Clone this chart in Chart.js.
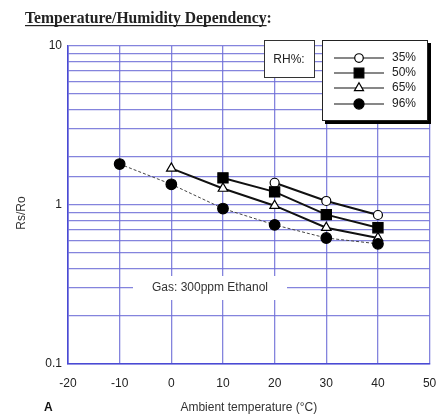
<!DOCTYPE html>
<html>
<head>
<meta charset="utf-8">
<script src="https://cdn.jsdelivr.net/npm/chart.js@4.4.1/dist/chart.umd.min.js"></script>
<style>
html,body{margin:0;padding:0;background:#fff;}
#wrap{position:relative;width:438px;height:419px;}
canvas{display:block;}
</style>
</head>
<body>
<div id="wrap"><canvas id="c" width="438" height="419"></canvas></div>
<script>
// ---- data ----
const chartTitle = 'Temperature/Humidity Dependency:';
const xTitle = 'Ambient temperature (\u00B0C)';
const yTitle = 'Rs/Ro';
const panelLabel = 'A';
const gasNote = 'Gas: 300ppm Ethanol';
const legendHeader = 'RH%:';
const seriesNames = ['35%', '50%', '65%', '96%'];

const xTickValues = [-20, -10, 0, 10, 20, 30, 40, 50];
const yTickValues = [0.1, 1, 10];
const yTickLabels = ['0.1', '1', '10'];

const rh35Temp = [20, 30, 40];
const rh35Val  = [1.38, 1.06, 0.865];
const rh50Temp = [10, 20, 30, 40];
const rh50Val  = [1.48, 1.21, 0.87, 0.72];
const rh65Temp = [0, 10, 20, 30, 40];
const rh65Val  = [1.70, 1.27, 0.99, 0.72, 0.62];
const rh96Temp = [-10, 0, 10, 20, 30, 40];
const rh96Val  = [1.81, 1.35, 0.95, 0.75, 0.62, 0.57];

function pts(t, v) { return t.map((x, i) => ({ x: x, y: v[i] })); }

const GRID = 'rgba(110,110,215,0.85)';
const BORDER = '#4a4ad4';

const styles = [
  { pointStyle: 'circle',   pointRadius: 4.5, bg: '#fff',    lw: 2,   dash: [],     lc: '#111' },
  { pointStyle: 'rect',     pointRadius: 7.2, bg: '#000',    lw: 2,   dash: [],     lc: '#111' },
  { pointStyle: 'triangle', pointRadius: 5.5, bg: '#fff',    lw: 2,   dash: [],     lc: '#111' },
  { pointStyle: 'circle',   pointRadius: 5.3, bg: '#000',    lw: 1,   dash: [3, 2], lc: '#444' }
];
const seriesData = [pts(rh35Temp, rh35Val), pts(rh50Temp, rh50Val), pts(rh65Temp, rh65Val), pts(rh96Temp, rh96Val)];

const datasets = seriesNames.map((n, i) => ({
  label: n,
  data: seriesData[i],
  borderColor: styles[i].lc,
  borderWidth: styles[i].lw,
  borderDash: styles[i].dash,
  pointStyle: styles[i].pointStyle,
  pointRadius: styles[i].pointRadius,
  pointBackgroundColor: styles[i].bg,
  pointBorderColor: '#000',
  pointBorderWidth: 1.2,
  tension: 0,
  fill: false,
  order: 3 - i
}));

const decor = {
  id: 'decor',
  beforeDatasetsDraw(chart) {
    const ctx = chart.ctx;
    ctx.save();
    // gas note box
    ctx.fillStyle = '#fff';
    ctx.fillRect(133, 276, 154, 24);
    ctx.fillStyle = '#333';
    ctx.font = '12px "Liberation Sans", Arial, sans-serif';
    ctx.textAlign = 'center';
    ctx.textBaseline = 'middle';
    ctx.fillText(gasNote, 210, 288);
    ctx.restore();
  },
  afterDraw(chart) {
    const ctx = chart.ctx;
    ctx.save();
    // title
    ctx.fillStyle = '#222';
    ctx.font = 'bold 14px "Liberation Serif", "Times New Roman", serif';
    let w = ctx.measureText(chartTitle).width;
    const size = 14 * 247 / w;
    ctx.font = 'bold ' + size.toFixed(2) + 'px "Liberation Serif", "Times New Roman", serif';
    ctx.textAlign = 'left';
    ctx.textBaseline = 'alphabetic';
    ctx.fillText(chartTitle, 25, 23);
    const uw = ctx.measureText(chartTitle.slice(0, -1)).width;
    ctx.fillRect(25, 25, uw, 1.2);

    // y title
    ctx.font = '12px "Liberation Sans", Arial, sans-serif';
    ctx.fillStyle = '#333';
    ctx.translate(22, 213);
    ctx.rotate(-Math.PI / 2);
    ctx.textAlign = 'center';
    ctx.textBaseline = 'middle';
    ctx.fillText(yTitle, 0, 0);
    ctx.setTransform(1, 0, 0, 1, 0, 0);

    // panel label
    ctx.font = 'bold 12px "Liberation Sans", Arial, sans-serif';
    ctx.fillStyle = '#111';
    ctx.textAlign = 'left';
    ctx.fillText(panelLabel, 44, 408);

    // RH% box
    ctx.fillStyle = '#fff';
    ctx.fillRect(264, 40, 50, 38);
    ctx.strokeStyle = '#333';
    ctx.lineWidth = 1;
    ctx.strokeRect(264.5, 40.5, 50, 37);
    ctx.fillStyle = '#222';
    ctx.font = '12px "Liberation Sans", Arial, sans-serif';
    ctx.textAlign = 'center';
    ctx.fillText(legendHeader, 289, 60);

    // legend box with shadow
    ctx.fillStyle = '#000';
    ctx.fillRect(325, 43, 106, 81);
    ctx.fillStyle = '#fff';
    ctx.fillRect(322, 40, 106, 81);
    ctx.strokeStyle = '#222';
    ctx.strokeRect(322.5, 40.5, 105, 80);

    const rowY = [58, 73, 88, 104];
    chart.data.datasets.forEach((ds, i) => {
      const y = rowY[i];
      ctx.strokeStyle = '#111';
      ctx.lineWidth = 1.2;
      ctx.setLineDash([]);
      ctx.beginPath();
      ctx.moveTo(334, y);
      ctx.lineTo(384, y);
      ctx.stroke();
      ctx.fillStyle = ds.pointBackgroundColor;
      ctx.strokeStyle = '#000';
      ctx.lineWidth = 1.2;
      Chart.helpers.drawPoint(ctx, {
        pointStyle: ds.pointStyle,
        radius: ds.pointRadius * 0.95,
        rotation: 0,
        borderWidth: 1.2
      }, 359, y);
      ctx.fillStyle = '#222';
      ctx.font = '12px "Liberation Sans", Arial, sans-serif';
      ctx.textAlign = 'left';
      ctx.textBaseline = 'middle';
      ctx.fillText(ds.label, 392, y);
    });
    ctx.restore();
  }
};

new Chart(document.getElementById('c'), {
  type: 'line',
  data: { datasets: datasets },
  options: {
    responsive: false,
    animation: false,
    devicePixelRatio: 1,
    layout: { padding: { top: 46, right: 8, left: 0, bottom: 0 } },
    plugins: { legend: { display: false }, tooltip: { enabled: false } },
    scales: {
      x: {
        type: 'linear',
        min: -20, max: 50,
        afterFit(s) { s.height = 55; s.paddingLeft = 0; s.paddingRight = 0; },
        afterBuildTicks(s) { s.ticks = xTickValues.map(v => ({ value: v })); },
        ticks: {
          color: '#222',
          font: { family: '"Liberation Sans", Arial, sans-serif', size: 12 },
          padding: 12,
          callback: (v) => String(v)
        },
        grid: { color: GRID, lineWidth: 1.3, drawTicks: false },
        border: { color: BORDER, width: 1.6 },
        title: {
          display: true,
          text: xTitle,
          color: '#333',
          font: { family: '"Liberation Sans", Arial, sans-serif', size: 12 },
          padding: { top: 0, bottom: 4 }
        }
      },
      y: {
        type: 'logarithmic',
        min: 0.1, max: 10,
        afterFit(s) { s.width = 68; s.paddingTop = 0; s.paddingBottom = 0; },
        ticks: {
          autoSkip: false,
          color: '#222',
          font: { family: '"Liberation Sans", Arial, sans-serif', size: 12 },
          padding: 6,
          callback: (v) => {
            const k = yTickValues.findIndex(t => Math.abs(t - v) < 1e-9);
            return k >= 0 ? yTickLabels[k] : '';
          }
        },
        grid: { color: GRID, lineWidth: 1.3, drawTicks: false },
        border: { color: BORDER, width: 1.6 }
      }
    }
  },
  plugins: [decor]
});
</script>
</body>
</html>
